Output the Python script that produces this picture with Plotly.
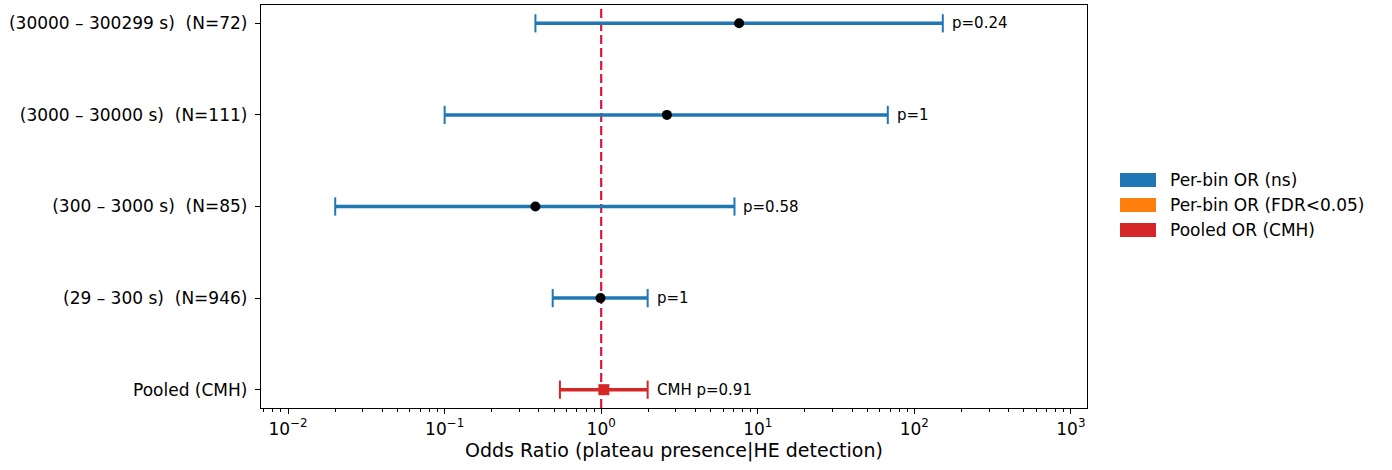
import numpy as np
import plotly.graph_objects as go

# Forest plot: per-duration-bin odds ratios with 95% CIs, plus pooled CMH estimate
row_labels = [
    "Pooled (CMH)",
    "(29 – 300 s)\u00a0 (N=946)",
    "(300 – 3000 s)\u00a0 (N=85)",
    "(3000 – 30000 s)\u00a0 (N=111)",
    "(30000 – 300299 s)\u00a0 (N=72)",
]

# per-bin estimates (bottom to top, excluding the pooled row)
bin_or = [0.99, 0.38, 2.63, 7.6]
bin_lo = [0.49, 0.020, 0.10, 0.38]
bin_hi = [1.98, 7.1, 67.7, 152.0]
bin_p = ["1", "0.58", "1", "0.24"]

# pooled Cochran-Mantel-Haenszel estimate
pooled_or = 1.04
pooled_lo = 0.545
pooled_hi = 1.98
pooled_p = "0.91"

# decade ticks on the odds-ratio axis
decade_exponents = [-2, -1, 0, 1, 2, 3]

legend_items = ["Per-bin OR (ns)", "Per-bin OR (FDR<0.05)", "Pooled OR (CMH)"]
legend_colors = ["#1f77b4", "#ff7f0e", "#d62728"]

BLUE, RED = "#1f77b4", "#d62728"
W, H = 1392, 470
ML, MR, MT, MB = 261, 305, 5, 62
FONT = "DejaVu Sans"

fig = go.Figure()

# CI segments with end caps
for i, (lo, hi) in enumerate(zip(bin_lo, bin_hi)):
    y = i + 1
    fig.add_trace(go.Scatter(
        x=[lo, hi], y=[y, y], mode="lines+markers",
        line=dict(color=BLUE, width=3.5),
        marker=dict(symbol="line-ns-open", size=13, color=BLUE,
                    line=dict(color=BLUE, width=2)),
        showlegend=False, hoverinfo="skip"))

fig.add_trace(go.Scatter(
    x=[pooled_lo, pooled_hi], y=[0, 0], mode="lines+markers",
    line=dict(color=RED, width=3.5),
    marker=dict(symbol="line-ns-open", size=13, color=RED,
                line=dict(color=RED, width=2)),
    showlegend=False, hoverinfo="skip"))

# point estimates
fig.add_trace(go.Scatter(
    x=bin_or, y=[1, 2, 3, 4], mode="markers",
    marker=dict(symbol="circle", size=10, color="black"),
    showlegend=False))
fig.add_trace(go.Scatter(
    x=[pooled_or], y=[0], mode="markers",
    marker=dict(symbol="square", size=11, color=RED),
    showlegend=False))

# p-value labels just right of each CI
annotations = []
for i, (hi, p) in enumerate(zip(bin_hi, bin_p)):
    annotations.append(dict(
        x=np.log10(hi), y=i + 1, xref="x", yref="y", text=f"p={p}",
        xanchor="left", yanchor="middle", xshift=7, showarrow=False,
        font=dict(family=FONT, size=15, color="black")))
annotations.append(dict(
    x=np.log10(pooled_hi), y=0, xref="x", yref="y", text=f"CMH p={pooled_p}",
    xanchor="left", yanchor="middle", xshift=7, showarrow=False,
    font=dict(family=FONT, size=15, color="black")))

# legend drawn as colour patches outside the axes
plot_w = W - ML - MR
plot_h = H - MT - MB


def px_x(px):
    return (px - ML) / plot_w


def px_y(py):
    return (H - MB - py) / plot_h


shapes = [dict(type="line", xref="x", yref="paper", x0=1, x1=1, y0=0, y1=1,
               line=dict(color="#dc143c", width=2.2, dash="9px,4px"),
               layer="below")]
legend_rows_px = [180, 205, 230]
for name, col, py in zip(legend_items, legend_colors, legend_rows_px):
    shapes.append(dict(type="rect", xref="paper", yref="paper",
                       x0=px_x(1120), x1=px_x(1156),
                       y0=px_y(py + 7), y1=px_y(py - 7),
                       fillcolor=col, line=dict(width=0)))
    annotations.append(dict(x=px_x(1168), y=px_y(py), xref="paper", yref="paper",
                            text=name, xanchor="left", yanchor="middle",
                            showarrow=False,
                            font=dict(family=FONT, size=17, color="black")))

tick_vals = [10.0 ** e for e in decade_exponents]
tick_text = [f"10<sup>{str(e).replace('-', '−')}</sup>" for e in decade_exponents]

fig.update_layout(
    width=W, height=H,
    margin=dict(l=ML, r=MR, t=MT, b=MB),
    paper_bgcolor="white", plot_bgcolor="white",
    font=dict(family=FONT, size=17, color="black"),
    showlegend=False,
    shapes=shapes, annotations=annotations,
    xaxis=dict(
        type="log", range=[-2.173, 3.103],
        tickmode="array", tickvals=tick_vals, ticktext=tick_text,
        showgrid=False, zeroline=False,
        showline=True, linecolor="black", linewidth=1.3, mirror=True,
        ticks="outside", ticklen=5, tickwidth=1.2, tickcolor="black",
        tickfont=dict(family=FONT, size=17, color="black"),
        minor=dict(ticks="outside", ticklen=3, tickwidth=0.9,
                   tickcolor="black", dtick="D1", showgrid=False),
        title=dict(text="Odds Ratio (plateau presence|HE detection)",
                   font=dict(family=FONT, size=19, color="black"),
                   standoff=4),
    ),
    yaxis=dict(
        range=[-0.2, 4.2], tickvals=[0, 1, 2, 3, 4], ticktext=row_labels,
        showgrid=False, zeroline=False,
        showline=True, linecolor="black", linewidth=1.3, mirror=True,
        ticks="outside", ticklen=5, tickwidth=1.2, tickcolor="black",
        tickfont=dict(family=FONT, size=17, color="black"),
        ticklabelstandoff=4,
    ),
)

fig.write_html("out.html")
